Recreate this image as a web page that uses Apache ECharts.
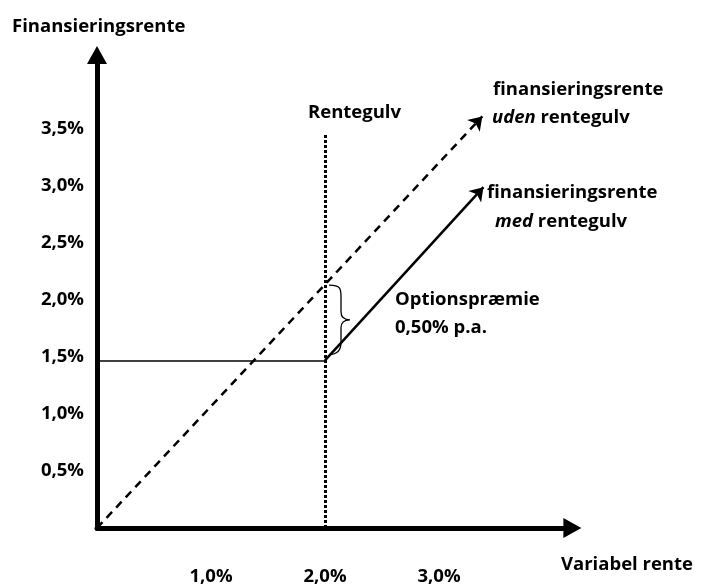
<!DOCTYPE html>
<html><head><meta charset="utf-8">
<script src="https://cdn.jsdelivr.net/npm/echarts@6/dist/echarts.min.js"></script>
<style>html,body{margin:0;padding:0;background:#fff}#c{width:710px;height:587px}</style>
</head><body><div id="c"></div>
<script>
// Data (schematic chart, values in %)
const yTicks = [0.5, 1.0, 1.5, 2.0, 2.5, 3.0, 3.5];
const xTicks = [1.0, 2.0, 3.0];
const floorStrike = 2.0;          // Rentegulv on variable rate
const floorRate = 1.47;           // financing rate floor level
const udenLine = [[0, 0], [3.38, 3.61]];            // without floor (dashed)
const medLine = [[floorStrike, floorRate], [3.39, 2.99]]; // with floor above strike
const floorFlat = [[0, floorRate], [floorStrike, floorRate]];
const floorMark = [[floorStrike, 0], [floorStrike, 3.45]];
const brace = [[floorStrike, floorRate, 2.13]];

const FONT = '"Open Sans"';
const W = 'bold';
const FS = 18.5;
const pxPerUnit = 114;
const xMax = 4.17, yMax = 4.15;
const chart = echarts.init(document.getElementById('c'));
const fmt = v => v.toFixed(1).replace('.', ',') + '%';
const txt = (x, y, text) => ({
  type: 'text', left: x, top: y,
  style: { text: text, font: W + ' ' + FS + 'px ' + FONT, fill: '#000',
    rich: { i: { font: 'italic ' + W + ' ' + FS + 'px ' + FONT, fill: '#000' } } }
});

chart.setOption({
  animation: false,
  grid: { left: 97, top: 528 - yMax * pxPerUnit, width: xMax * pxPerUnit, height: yMax * pxPerUnit },
  xAxis: {
    type: 'value', min: 0, max: xMax, interval: 0.5,
    splitLine: { show: false }, axisTick: { show: false },
    axisLine: { lineStyle: { color: '#000', width: 5 }, symbol: ['none', 'triangle'], symbolSize: [20, 18] },
    axisLabel: { margin: 39, color: '#000', fontFamily: FONT, fontWeight: W, fontSize: FS,
      formatter: v => xTicks.some(t => Math.abs(t - v) < 1e-9) ? fmt(v) : '' ,
      showMaxLabel: false }
  },
  yAxis: {
    type: 'value', min: 0, max: yMax, interval: 0.5,
    splitLine: { show: false }, axisTick: { show: false },
    axisLine: { lineStyle: { color: '#000', width: 5 }, symbol: ['none', 'triangle'], symbolSize: [20, 18] },
    axisLabel: { margin: 13, color: '#000', fontFamily: FONT, fontWeight: W, fontSize: FS,
      formatter: v => yTicks.some(t => Math.abs(t - v) < 1e-9) ? fmt(v) : '',
      showMaxLabel: false }
  },
  series: [
    { type: 'lines', coordinateSystem: 'cartesian2d', silent: true, z: 3,
      symbol: ['none', 'arrow'], symbolSize: 13,
      lineStyle: { color: '#000', width: 2.5, type: [8, 6], opacity: 1 },
      data: [{ coords: udenLine }] },
    { type: 'lines', coordinateSystem: 'cartesian2d', silent: true, z: 3,
      symbol: ['none', 'arrow'], symbolSize: 13,
      lineStyle: { color: '#000', width: 2.5, opacity: 1 },
      data: [{ coords: medLine }] },
    { type: 'lines', coordinateSystem: 'cartesian2d', silent: true, z: 2,
      lineStyle: { color: '#000', width: 1.6, opacity: 1 },
      data: [{ coords: floorFlat }] },
    { type: 'lines', coordinateSystem: 'cartesian2d', silent: true, z: 2,
      lineStyle: { color: '#000', width: 3, type: [3, 2], opacity: 1 },
      data: [{ coords: floorMark }] },
    { type: 'custom', coordinateSystem: 'cartesian2d', silent: true, z: 4,
      data: brace,
      renderItem: (params, api) => {
        const top = api.coord([api.value(0), api.value(2)]);
        const bot = api.coord([api.value(0), api.value(1)]);
        const x = top[0] + 4, t = top[1], b = bot[1] - 6, m = (t + b) / 2;
        const w = 12;
        const path = `M${x} ${t} C${x+w} ${t} ${x+w} ${t+4} ${x+w} ${t+12} L${x+w} ${m-8} C${x+w} ${m-2} ${x+w+4} ${m} ${x+w+9} ${m} ` +
          `C${x+w+4} ${m} ${x+w} ${m+2} ${x+w} ${m+8} L${x+w} ${b-12} C${x+w} ${b-4} ${x+w-4} ${b} ${x} ${b}`;
        return { type: 'path', shape: { pathData: path },
          style: { stroke: '#000', lineWidth: 1.3, fill: null } };
      } }
  ],
  graphic: [
    txt(12, 17, 'Finansieringsrente'),
    txt(561, 555, 'Variabel rente'),
    txt(308, 103, 'Rentegulv'),
    txt(493, 80, 'finansieringsrente'),
    txt(492, 108, '{i|uden} rentegulv'),
    txt(487, 183, 'finansieringsrente'),
    txt(495, 212, '{i|med} rentegulv'),
    txt(395, 290, 'Optionspræmie'),
    txt(395, 318, '0,50% p.a.')
  ]
});
</script></body></html>
